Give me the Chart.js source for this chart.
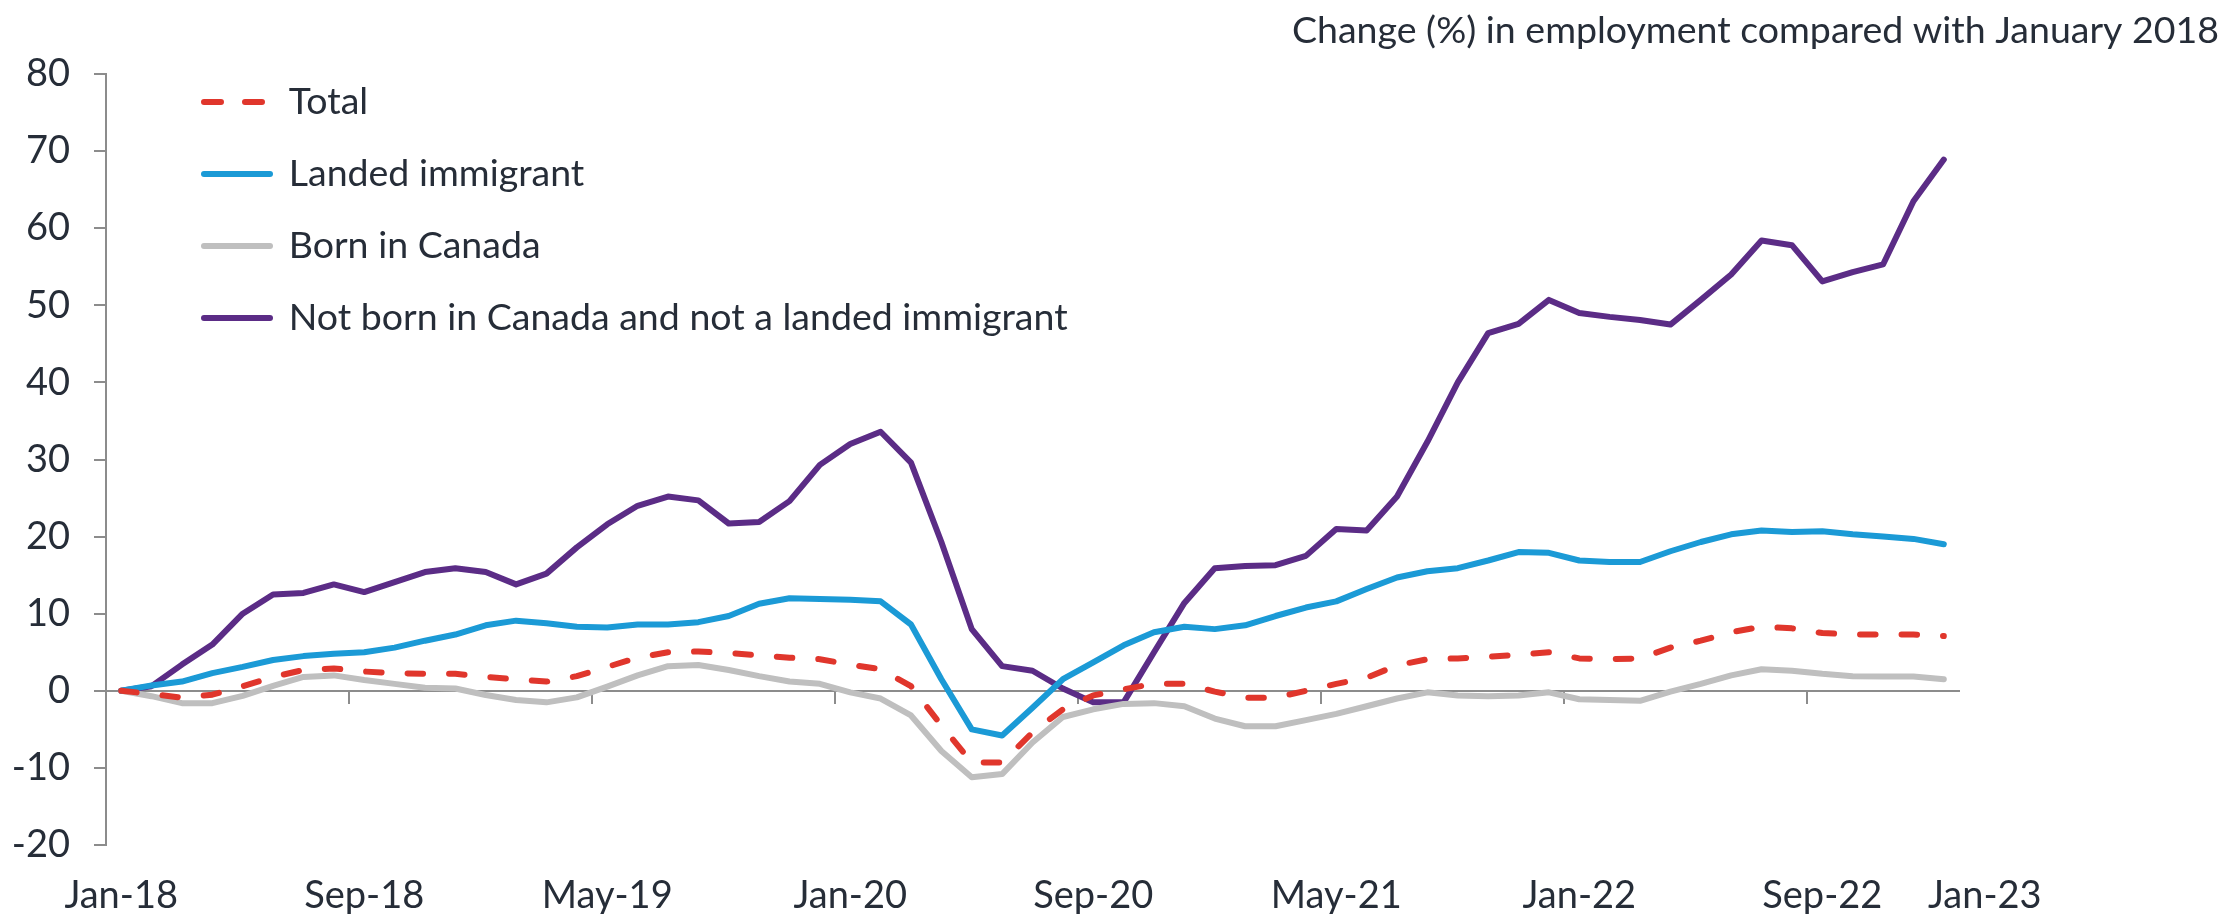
<!DOCTYPE html>
<html>
<head>
<meta charset="utf-8">
<title>Change in employment since January 2018</title>
<script src="https://cdn.jsdelivr.net/npm/chart.js@4.4.1/dist/chart.umd.min.js"></script>
<style>
	html, body { margin: 0; padding: 0; background: #ffffff; }
	#wrap { width: 2229px; height: 914px; }
</style>
</head>
<body>
<div id="wrap"><canvas id="myChart"></canvas></div>
<script>
// monthly change (%) in employment, January 2018 = 0
var monthNames = ["Jan", "Feb", "Mar", "Apr", "May", "Jun", "Jul", "Aug", "Sep", "Oct", "Nov", "Dec"];
var months = [];
for (var i = 0; i < 61; i++) {
	months.push(monthNames[i % 12] + "-" + (18 + Math.floor(i / 12)));
}

var total = [0, -0.4, -0.9, -0.5, 0.6, 1.8, 2.7, 2.9, 2.5, 2.3, 2.2, 2.2, 1.8, 1.5, 1.2, 1.9, 3.1, 4.3, 5.0, 5.1,
	4.9, 4.6, 4.3, 4.1, 3.4, 2.8, 0.6, -4.5, -9.3, -9.3, -5.4, -2.4, -0.6, 0.2, 0.9, 0.9, -0.1, -0.9, -0.9, 0,
	0.9, 1.7, 3.3, 4.1, 4.2, 4.4, 4.7, 5.0, 4.2, 4.1, 4.2, 5.6, 6.5, 7.6, 8.3, 8.1, 7.5, 7.3, 7.3, 7.3, 7.1];

var landed = [0, 0.7, 1.2, 2.3, 3.1, 4.0, 4.5, 4.8, 5.0, 5.6, 6.5, 7.3, 8.5, 9.1, 8.75, 8.3, 8.2, 8.6, 8.6, 8.9,
	9.7, 11.3, 12.0, 11.9, 11.8, 11.6, 8.6, 1.5, -5.0, -5.8, -2.2, 1.5, 3.7, 5.9, 7.6, 8.3, 8.0, 8.5, 9.7, 10.8,
	11.6, 13.2, 14.7, 15.5, 15.9, 16.9, 18.0, 17.9, 16.9, 16.7, 16.7, 18.1, 19.3, 20.3, 20.8, 20.6, 20.7, 20.3, 20.0, 19.7, 19.0];

var bornCanada = [0, -0.7, -1.6, -1.6, -0.65, 0.65, 1.8, 2.0, 1.4, 0.9, 0.4, 0.3, -0.55, -1.2, -1.5, -0.85, 0.55, 2.0, 3.2, 3.35,
	2.7, 1.9, 1.2, 0.9, -0.2, -1.0, -3.2, -7.8, -11.2, -10.8, -6.7, -3.4, -2.4, -1.7, -1.6, -2.0, -3.6, -4.6, -4.6, -3.8,
	-3.0, -2.0, -1.0, -0.2, -0.6, -0.7, -0.6, -0.2, -1.1, -1.2, -1.3, -0.1, 0.9, 2.0, 2.8, 2.6, 2.2, 1.9, 1.85, 1.85, 1.5];

var notBorn = [0, 0.6, 3.4, 6.0, 10.0, 12.5, 12.7, 13.8, 12.8, 14.1, 15.4, 15.9, 15.4, 13.8, 15.2, 18.6, 21.6, 24.0, 25.2, 24.7,
	21.7, 21.9, 24.6, 29.3, 32.0, 33.6, 29.6, 19.3, 8.0, 3.2, 2.6, 0.3, -1.5, -1.5, 5.0, 11.4, 15.9, 16.2, 16.3, 17.5,
	21.0, 20.8, 25.2, 32.3, 40.0, 46.4, 47.6, 50.7, 49.0, 48.5, 48.1, 47.5, 50.7, 54.0, 58.4, 57.8, 53.1, 54.3, 55.3, 63.5, 68.9];

// date labels along the bottom and the month index each one sits under
var tickLabels = ["Jan-18", "Sep-18", "May-19", "Jan-20", "Sep-20", "May-21", "Jan-22", "Sep-22", "Jan-23"];
var tickPos = [0, 8, 16, 24, 32, 40, 48, 56, 61.35];

var textColor = "#262d38";
var axisColor = "#8c8c8c";

Chart.defaults.font.family = "Lato";
Chart.defaults.font.size = 38;
Chart.defaults.color = textColor;

// put the legend in the top left corner of the plot area
var legendOffset = {
	id: "legendOffset",
	afterLayout: function (chart) {
		chart.legend.left += 63.5;
		chart.legend.top = chart.chartArea.top - 25.25;
	},
};

function lineSet(label, data, color) {
	return {
		label: label,
		data: data,
		borderColor: color,
		backgroundColor: color,
		borderWidth: 6,
		borderCapStyle: "round",
		borderJoinStyle: "round",
		pointRadius: 0,
		tension: 0,
		fill: false,
	};
}

var totalSet = lineSet("Total", total, "#e0362c");
totalSet.borderDash = [15.5, 26];

var ctx = document.getElementById("myChart").getContext("2d");
var myChart = new Chart(ctx, {
	type: "line",
	data: {
		labels: months,
		datasets: [
			totalSet,
			lineSet("Landed immigrant", landed, "#1b9ad6"),
			lineSet("Born in Canada", bornCanada, "#bfbfbf"),
			lineSet("Not born in Canada and not a landed immigrant", notBorn, "#5b2c86"),
		],
	},
	plugins: [legendOffset],
	options: {
		responsive: true,
		maintainAspectRatio: false,
		animation: false,
		layout: {
			padding: { top: 0, left: 0, right: 10, bottom: 0 },
		},
		scales: {
			// horizontal axis line through zero, with a tick every 8 months
			x: {
				type: "category",
				position: { y: 0 },
				offset: true,
				grid: {
					offset: true,
					drawOnChartArea: false,
					tickLength: 12,
					lineWidth: 2,
					color: function (c) {
						return c.index % 8 === 0 ? axisColor : "rgba(0,0,0,0)";
					},
				},
				border: { display: true, color: axisColor, width: 2 },
				ticks: { display: false, autoSkip: false },
			},
			// date labels at the bottom
			dateAxis: {
				axis: "x",
				type: "linear",
				position: "bottom",
				min: -0.5,
				max: 60.5,
				bounds: "data",
				grid: { display: false, drawTicks: false },
				border: { display: false },
				ticks: {
					autoSkip: false,
					maxRotation: 0,
					padding: 28,
					callback: function (value, index) {
						return tickLabels[index];
					},
				},
				afterBuildTicks: function (axis) {
					axis.ticks = tickPos.map(function (v) {
						return { value: v };
					});
				},
				afterFit: function (axis) {
					axis.height = 69;
				},
			},
			y: {
				min: -20,
				max: 80,
				ticks: { stepSize: 10, padding: 24 },
				grid: { drawOnChartArea: false, tickLength: 12, lineWidth: 2, color: axisColor },
				border: { display: true, color: axisColor, width: 2 },
				afterFit: function (axis) {
					axis.width = 106;
				},
			},
			// empty right-hand space
			yPad: {
				axis: "y",
				position: "right",
				grid: { display: false },
				ticks: { display: false },
				border: { display: false },
				afterFit: function (axis) {
					axis.width = 260;
				},
			},
		},
		plugins: {
			title: {
				display: true,
				text: "Change (%) in employment compared with January 2018",
				align: "end",
				color: textColor,
				font: { size: 37.5, weight: "normal" },
				padding: { top: 8, bottom: 21 },
			},
			legend: {
				position: "chartArea",
				align: "start",
				labels: {
					usePointStyle: true,
					pointStyle: "line",
					pointStyleWidth: 66,
					padding: 34.5,
					color: textColor,
					font: { size: 37.5 },
					// legend samples use the dataset's own line width and dash
					generateLabels: function (chart) {
						var items = Chart.defaults.plugins.legend.labels.generateLabels(chart);
						items.forEach(function (item) {
							var ds = chart.data.datasets[item.datasetIndex];
							item.lineWidth = ds.borderWidth;
							item.lineCap = "round";
							item.lineDash = ds.borderDash ? [17, 24] : [];
						});
						return items;
					},
				},
			},
			tooltip: { enabled: false },
		},
	},
});
</script>
</body>
</html>
